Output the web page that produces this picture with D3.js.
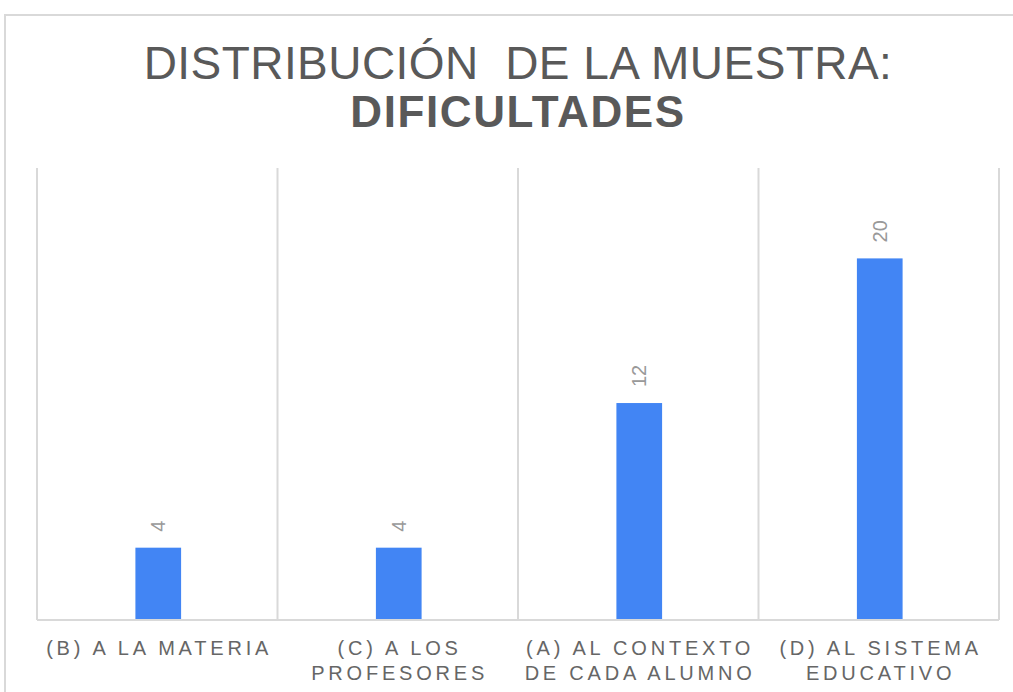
<!DOCTYPE html>
<html>
<head>
<meta charset="utf-8">
<script src="https://cdn.jsdelivr.net/npm/d3@7"></script>
<style>
  html, body { margin: 0; padding: 0; background: #fff; }
  svg { display: block; font-family: "Liberation Sans", Arial, sans-serif; }
  text { white-space: pre; }
</style>
</head>
<body>
<svg id="chart" width="1013" height="692"></svg>
<script>
"use strict";

// Data
const categories = ["(B) A LA MATERIA", "(C) A LOS PROFESORES", "(A) AL CONTEXTO DE CADA ALUMNO", "(D) AL SISTEMA EDUCATIVO"];
const categoryLines = [
    ["(B) A LA MATERIA"],
    ["(C) A LOS", "PROFESORES"],
    ["(A) AL CONTEXTO", "DE CADA ALUMNO"],
    ["(D) AL SISTEMA", "EDUCATIVO"]
];
const values = [4, 4, 12, 20];
const titleLines = ["DISTRIBUCIÓN  DE LA MUESTRA:", "DIFICULTADES"];

const svg = d3.select("#chart");
const W = 1013, H = 692;
const margin = { top: 168, right: 14, bottom: 72, left: 37 };
const innerW = W - margin.left - margin.right;
const innerH = H - margin.top - margin.bottom;

// Outer chart frame (only top and left edges visible)
svg.append("path")
    .attr("d", `M5,${H} V15 H${W}`)
    .attr("fill", "none")
    .attr("stroke", "#d9d9d9")
    .attr("stroke-width", 2);

// Title
const title = svg.append("text")
    .attr("text-anchor", "middle")
    .attr("fill", "#595959");
title.append("tspan")
    .attr("x", 518).attr("y", 79)
    .attr("font-size", 46)
    .attr("letter-spacing", 0.45)
    .text(titleLines[0]);
title.append("tspan")
    .attr("x", 518).attr("y", 127)
    .attr("font-size", 44)
    .attr("font-weight", "bold")
    .attr("letter-spacing", 1.6)
    .text(titleLines[1]);

const x = d3.scaleBand()
    .domain(categories)
    .range([0, innerW])
    .paddingInner(0.81)
    .paddingOuter(0.405);

const xGrid = d3.scaleLinear()
    .domain([0, categories.length])
    .range([0, innerW]);

const y = d3.scaleLinear()
    .domain([0, 25])
    .range([innerH, 0]);

const g = svg.append("g")
    .attr("transform", `translate(${margin.left},${margin.top})`);

// Vertical separators between categories
g.selectAll("line.grid")
    .data(d3.range(categories.length + 1))
    .enter().append("line")
    .attr("class", "grid")
    .attr("x1", d => xGrid(d)).attr("x2", d => xGrid(d))
    .attr("y1", 0).attr("y2", innerH)
    .attr("stroke", "#d9d9d9")
    .attr("stroke-width", 2);

// Baseline
g.append("line")
    .attr("x1", 0).attr("x2", innerW)
    .attr("y1", innerH).attr("y2", innerH)
    .attr("stroke", "#d9d9d9")
    .attr("stroke-width", 2);

// Bars
g.selectAll("rect.bar")
    .data(values)
    .enter().append("rect")
    .attr("class", "bar")
    .attr("x", (d, i) => x(categories[i]) + 1)
    .attr("y", d => y(d))
    .attr("width", x.bandwidth())
    .attr("height", d => innerH - y(d) - 1)
    .attr("fill", "#4285f4");

// Value labels, rotated
g.selectAll("text.value")
    .data(values)
    .enter().append("text")
    .attr("class", "value")
    .attr("transform", (d, i) =>
        `translate(${x(categories[i]) + x.bandwidth() / 2 + 8},${y(d) - 16}) rotate(-90)`)
    .attr("text-anchor", "start")
    .attr("font-size", 20)
    .attr("fill", "#999")
    .text(d => d);

// Category labels
const labels = g.selectAll("text.cat")
    .data(categoryLines)
    .enter().append("text")
    .attr("class", "cat")
    .attr("text-anchor", "middle")
    .attr("font-size", 20)
    .attr("letter-spacing", 3.8)
    .attr("fill", "#666");
labels.selectAll("tspan")
    .data((d, i) => d.map(t => ({ t: t, i: i })))
    .enter().append("tspan")
    .attr("x", d => xGrid(d.i + 0.5) + 1.9)
    .attr("y", (d, j) => innerH + 35 + j * 25)
    .text(d => d.t);
</script>
</body>
</html>
